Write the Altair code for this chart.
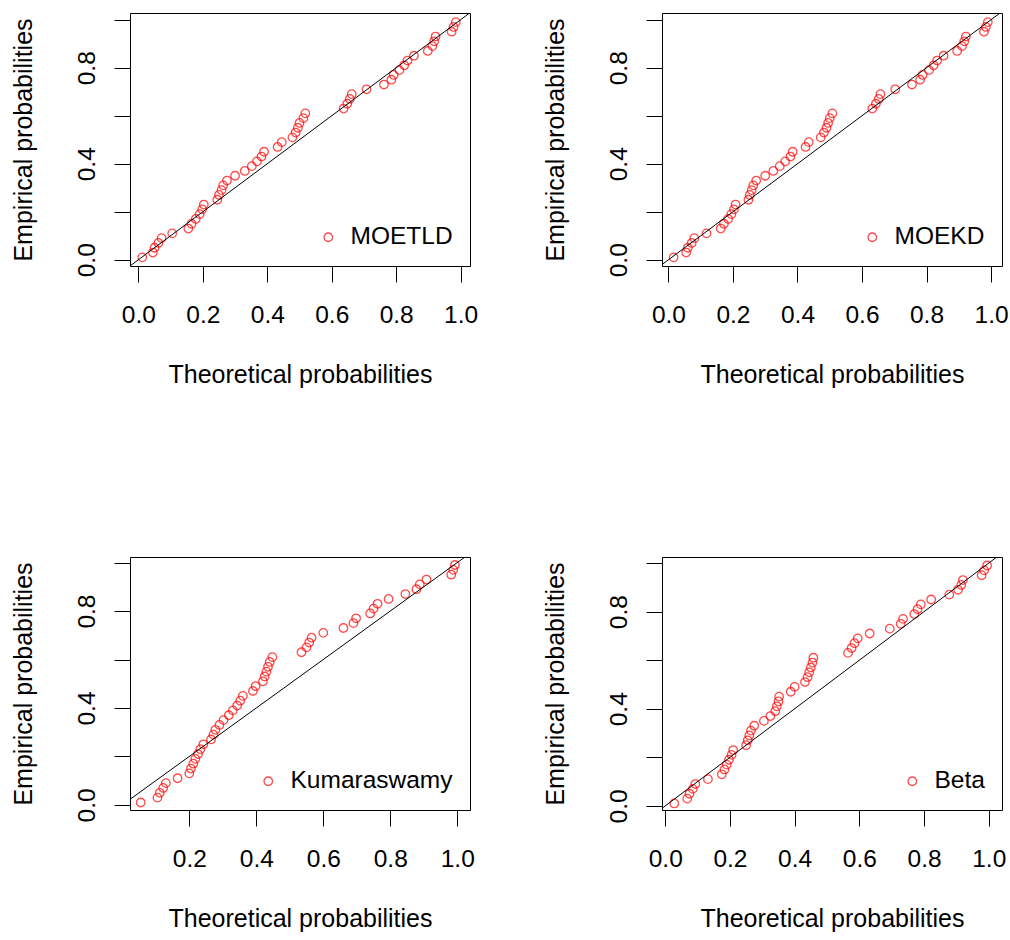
import altair as alt
import pandas as pd

# empirical probabilities (plotting positions), shared by all panels
emp = [0.01, 0.03, 0.05, 0.07, 0.09, 0.11, 0.13, 0.15, 0.17, 0.19,
       0.21, 0.23, 0.25, 0.27, 0.29, 0.31, 0.33, 0.35, 0.37, 0.39,
       0.41, 0.43, 0.45, 0.47, 0.49, 0.51, 0.53, 0.55, 0.57, 0.59,
       0.61, 0.63, 0.65, 0.67, 0.69, 0.71, 0.73, 0.75, 0.77, 0.79,
       0.81, 0.83, 0.85, 0.87, 0.89, 0.91, 0.93, 0.95, 0.97, 0.99]

# theoretical probabilities per fitted model
moetld = [0.012, 0.045, 0.050, 0.062, 0.072, 0.105, 0.155, 0.165, 0.178, 0.190,
          0.198, 0.203, 0.245, 0.250, 0.258, 0.263, 0.275, 0.300, 0.330, 0.352,
          0.368, 0.382, 0.390, 0.432, 0.445, 0.478, 0.488, 0.495, 0.500, 0.512,
          0.518, 0.637, 0.648, 0.656, 0.662, 0.708, 0.762, 0.785, 0.792, 0.810,
          0.825, 0.835, 0.855, 0.898, 0.912, 0.918, 0.922, 0.972, 0.978, 0.985]

moekd = [0.016, 0.055, 0.060, 0.072, 0.080, 0.118, 0.162, 0.172, 0.185, 0.195,
         0.203, 0.208, 0.248, 0.252, 0.258, 0.263, 0.272, 0.300, 0.325, 0.345,
         0.362, 0.378, 0.385, 0.425, 0.435, 0.472, 0.482, 0.490, 0.495, 0.500,
         0.508, 0.632, 0.643, 0.652, 0.657, 0.703, 0.755, 0.780, 0.788, 0.808,
         0.822, 0.833, 0.853, 0.895, 0.910, 0.917, 0.922, 0.978, 0.984, 0.990]

kumaraswamy = [0.055, 0.105, 0.112, 0.122, 0.130, 0.165, 0.200, 0.205, 0.212, 0.218,
               0.226, 0.233, 0.242, 0.265, 0.272, 0.278, 0.290, 0.302, 0.318, 0.330,
               0.343, 0.352, 0.360, 0.390, 0.398, 0.420, 0.425, 0.430, 0.435, 0.440,
               0.448, 0.535, 0.550, 0.558, 0.565, 0.600, 0.660, 0.690, 0.698, 0.740,
               0.750, 0.762, 0.795, 0.845, 0.878, 0.888, 0.908, 0.982, 0.988, 0.993]

beta = [0.028, 0.068, 0.075, 0.085, 0.093, 0.132, 0.175, 0.183, 0.190, 0.197,
        0.205, 0.210, 0.250, 0.255, 0.260, 0.265, 0.275, 0.305, 0.325, 0.340,
        0.345, 0.350, 0.352, 0.388, 0.400, 0.432, 0.440, 0.445, 0.450, 0.455,
        0.458, 0.565, 0.576, 0.585, 0.595, 0.632, 0.694, 0.728, 0.735, 0.770,
        0.780, 0.790, 0.822, 0.878, 0.905, 0.915, 0.920, 0.978, 0.986, 0.995]

names = ["MOETLD", "MOEKD", "Kumaraswamy", "Beta"]
series = [moetld, moekd, kumaraswamy, beta]
x_domains = [[-0.026, 1.029], [-0.020, 1.034], [0.023, 1.038], [-0.010, 1.041]]
y_domains = [[-0.026, 1.028], [-0.026, 1.028], [-0.021, 1.023], [-0.017, 1.025]]
x_ticks_full = [0.0, 0.2, 0.4, 0.6, 0.8, 1.0]
x_ticks_kuma = [0.2, 0.4, 0.6, 0.8, 1.0]
x_ticks = [x_ticks_full, x_ticks_full, x_ticks_kuma, x_ticks_full]
y_ticks = [0.0, 0.2, 0.4, 0.6, 0.8, 1.0]
diag = [-0.2, 1.2]  # identity reference line y = x

FONT = "Liberation Sans"
LBL = 24.5
TTL = 25


def panel(name, xs, xdom, ydom, xt):
    df = pd.DataFrame({"theo": xs, "emp": emp, "dist": [name] * len(xs)})
    ldf = pd.DataFrame({"theo": diag, "emp": diag})
    x_enc = alt.X("theo:Q",
                  scale=alt.Scale(domain=xdom, nice=False, zero=False),
                  axis=alt.Axis(values=xt, format=".1f",
                                title="Theoretical probabilities",
                                labelPadding=21, titlePadding=36))
    y_enc = alt.Y("emp:Q",
                  scale=alt.Scale(domain=ydom, nice=False, zero=False),
                  axis=alt.Axis(values=y_ticks, format=".1f",
                                title="Empirical probabilities",
                                labelAngle=270, labelAlign="center",
                                labelBaseline="alphabetic",
                                labelPadding=20, titlePadding=38,
                                labelExpr="(datum.value == 0 || datum.value == 0.4 || datum.value == 0.8) ? datum.label : ''"))
    pts = alt.Chart(df).mark_point(shape="circle", filled=False, size=72,
                                   strokeWidth=1.3, clip=True).encode(
        x=x_enc, y=y_enc,
        color=alt.Color("dist:N",
                        scale=alt.Scale(domain=[name], range=["#ff0000"]),
                        legend=alt.Legend(title=None, orient="bottom-right",
                                          offset=17, padding=0,
                                          labelFontSize=LBL, labelFont=FONT,
                                          labelColor="#000000", labelLimit=0,
                                          labelOffset=10, symbolSize=72,
                                          symbolStrokeWidth=1.3,
                                          symbolType="circle")))
    line = alt.Chart(ldf).mark_line(color="#000000", strokeWidth=1,
                                    clip=True).encode(x="theo:Q", y="emp:Q")
    return alt.layer(pts, line).properties(width=340, height=253)


panels = [panel(names[i], series[i], x_domains[i], y_domains[i], x_ticks[i])
          for i in range(4)]

chart = alt.concat(*panels, columns=2, spacing={"row": 291, "column": 192},
                   bounds="flush").resolve_scale(
    x="independent", y="independent", color="independent").resolve_legend(
    color="independent").properties(
    padding={"left": 10, "top": 12, "right": 0, "bottom": 0},
    background="white"
).configure_view(
    stroke="#000000", strokeWidth=1
).configure_axis(
    domain=False, grid=False, ticks=True, tickSize=16, tickColor="#000000",
    tickWidth=1, labelFont=FONT, labelFontSize=LBL, labelColor="#000000",
    titleFont=FONT, titleFontSize=TTL, titleColor="#000000",
    titleFontWeight="normal", labelOverlap=False, labelFlush=False
)

chart.save("out.html", embed_options={"renderer": "svg", "actions": False})
